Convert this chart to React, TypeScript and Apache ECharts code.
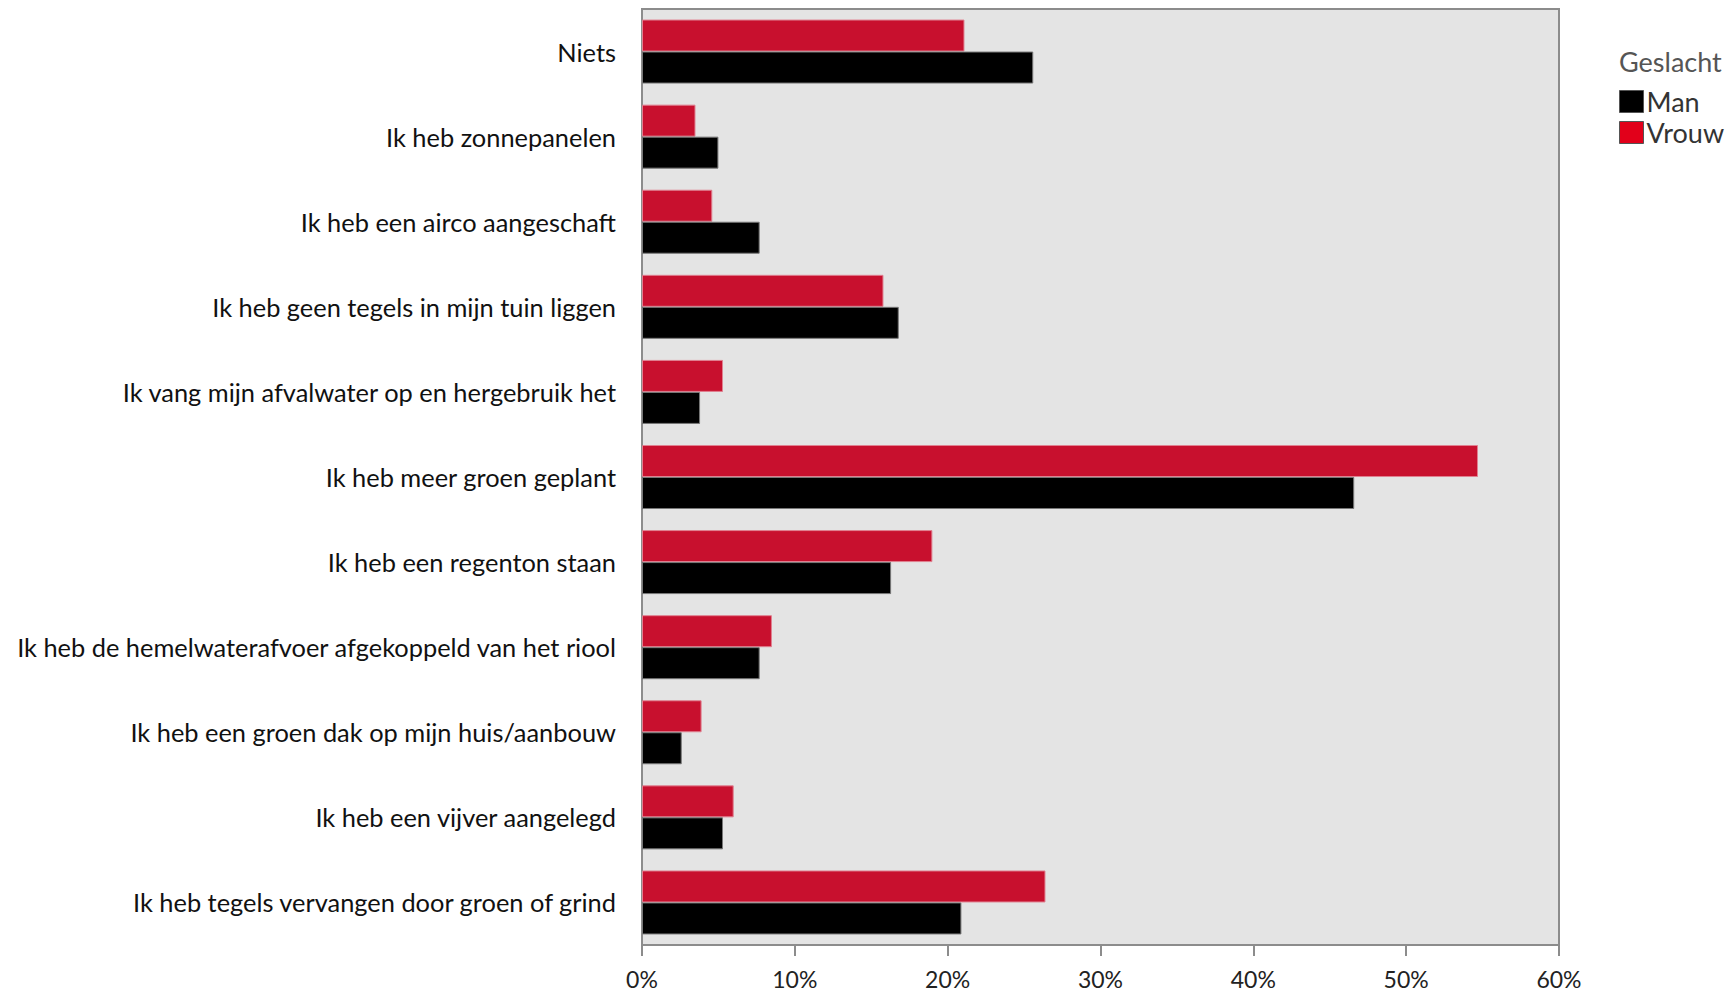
import React, { useEffect, useRef } from "react";
import * as echarts from "echarts";

const categories = [
  "Niets",
  "Ik heb zonnepanelen",
  "Ik heb een airco aangeschaft",
  "Ik heb geen tegels in mijn tuin liggen",
  "Ik vang mijn afvalwater op en hergebruik het",
  "Ik heb meer groen geplant",
  "Ik heb een regenton staan",
  "Ik heb de hemelwaterafvoer afgekoppeld van het riool",
  "Ik heb een groen dak op mijn huis/aanbouw",
  "Ik heb een vijver aangelegd",
  "Ik heb tegels vervangen door groen of grind",
];

const manValues = [25.6, 5.0, 7.7, 16.8, 3.8, 46.6, 16.3, 7.7, 2.6, 5.3, 20.9];
const vrouwValues = [21.1, 3.5, 4.6, 15.8, 5.3, 54.7, 19.0, 8.5, 3.9, 6.0, 26.4];

const xTicks = [0, 10, 20, 30, 40, 50, 60];

const FONT = "Lato, 'Open Sans', sans-serif";

export default function App() {
  const ref = useRef<HTMLDivElement>(null);
  useEffect(() => {
    if (!ref.current) return;
    const chart = echarts.init(ref.current, undefined, { renderer: "svg" });
    chart.setOption({
      animation: false,
      backgroundColor: "#ffffff",
      textStyle: { fontFamily: FONT },
      title: {
        text: "Geslacht",
        left: 1614,
        top: 43,
        padding: [5, 5, 5, 5],
        textStyle: { fontSize: 27, fontWeight: "normal", color: "#555555", fontFamily: FONT },
      },
      legend: {
        orient: "vertical",
        left: 1619,
        top: 88,
        itemWidth: 24,
        itemHeight: 22,
        itemGap: 4,
        padding: 0,
        textStyle: { fontSize: 27, color: "#333333", fontFamily: FONT, padding: [0, 0, 0, -2] },
        data: [
          { name: "Man", icon: "rect", itemStyle: { color: "#000000", borderColor: "#555", borderWidth: 1 } },
          { name: "Vrouw", icon: "rect", itemStyle: { color: "#e2001a", borderColor: "#555", borderWidth: 1 } },
        ],
      },
      grid: {
        left: 642,
        right: 175,
        top: 9,
        bottom: 47,
        show: true,
        backgroundColor: "#e4e4e4",
        borderColor: "#8c8c8c",
        borderWidth: 2,
        containLabel: false,
      },
      xAxis: {
        type: "value",
        min: xTicks[0],
        max: xTicks[xTicks.length - 1],
        interval: 10,
        axisLine: { show: true, lineStyle: { color: "#8c8c8c", width: 2 } },
        axisTick: { show: true, length: 11, lineStyle: { color: "#8c8c8c", width: 2 } },
        splitLine: { show: false },
        axisLabel: {
          formatter: "{value}%",
          fontSize: 23,
          color: "#222222",
          margin: 22,
          fontFamily: FONT,
        },
      },
      yAxis: {
        type: "category",
        data: categories,
        inverse: true,
        axisLine: { show: false },
        axisTick: { show: false },
        axisLabel: {
          fontSize: 25.4,
          color: "#111111",
          margin: 26,
          fontFamily: FONT,
        },
      },
      series: [
        {
          name: "Vrouw",
          type: "bar",
          data: vrouwValues,
          barWidth: 32,
          barGap: "0%",
          itemStyle: { color: "#c8102e", borderColor: "#e08090", borderWidth: 1 },
        },
        {
          name: "Man",
          type: "bar",
          data: manValues,
          barWidth: 32,
          barGap: "0%",
          itemStyle: { color: "#000000", borderColor: "#777777", borderWidth: 1 },
        },
      ],
    });
    return () => chart.dispose();
  }, []);
  return (
    <div
      ref={ref}
      style={{ position: "fixed", left: 0, top: 0, width: 1734, height: 992 }}
    />
  );
}
